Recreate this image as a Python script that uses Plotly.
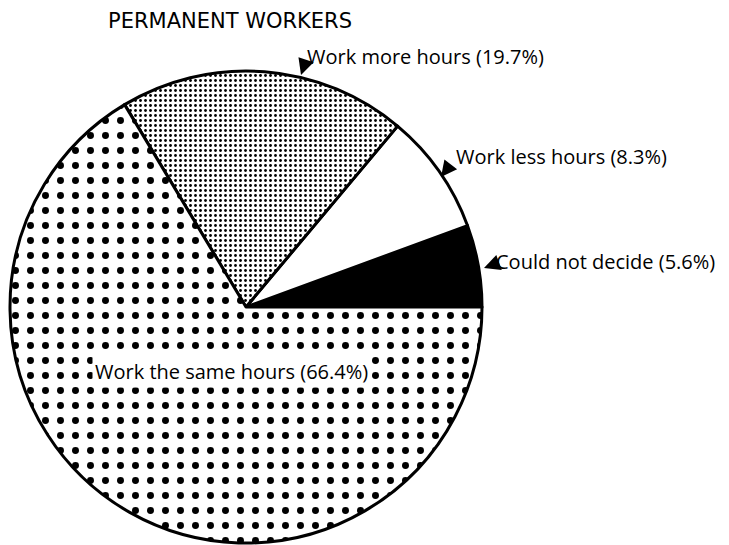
import plotly.graph_objects as go

labels = ["Could not decide", "Work less hours", "Work more hours", "Work the same hours"]
values = [5.6, 8.3, 19.7, 66.4]
title_text = "PERMANENT WORKERS"

# page is 729x545; the HTML body has an 8px margin
OFF = 8
FW, FH = 729 - OFF, 545 - OFF
ML, MR, MT, MB = 0, 0, 40, 0
PW, PH = FW - ML - MR, FH - MT - MB
FONT = "Open Sans"

def px(x, y):
    """page pixel -> paper fraction (plot area)"""
    return (x - OFF - ML) / PW, 1 - (y - OFF - MT) / PH

# first slice (ccw direction) must start at 3 o'clock
first_share = values[0] / sum(values) * 360
rotation = 90 - first_share

x0, y_top = px(10, 71)
x1, y_bot = px(482, 543)

fig = go.Figure()
fig.add_trace(go.Pie(
    labels=labels,
    values=values,
    sort=False,
    direction="counterclockwise",
    rotation=rotation,
    textinfo="none",
    hoverinfo="label+percent",
    showlegend=False,
    domain=dict(x=[x0, x1], y=[max(y_bot, 0), min(y_top, 1)]),
    marker=dict(
        colors=["black", "white", "white", "white"],
        line=dict(color="black", width=3),
        pattern=dict(
            shape=["", "", ".", "."],
            fgcolor=["black", "black", "black", "black"],
            bgcolor=["black", "white", "white", "white"],
            size=[8, 8, 5, 15],
            solidity=[0.2, 0.2, 0.25, 0.17],
            fillmode="replace",
        ),
    ),
))

annotations = []
# label texts: (text, left x, center y, white box) in page pixels
label_pos = [
    (f"{labels[2]} ({values[2]}%)", 304, 56, False),
    (f"{labels[1]} ({values[1]}%)", 453, 156, False),
    (f"{labels[0]} ({values[0]}%)", 493, 262, False),
    (f"{labels[3]} ({values[3]}%)", 92, 371, True),
]
for text, x, y, box in label_pos:
    xx, yy = px(x, y)
    annotations.append(dict(
        x=xx, y=yy, xref="paper", yref="paper", text=text, showarrow=False,
        xanchor="left", yanchor="middle",
        font=dict(family=FONT, size=20, color="black"),
        bgcolor="white" if box else None, borderpad=2,
    ))

# short arrows: (tip x, tip y, tail x, tail y) in page pixels
arrows = [
    (301, 75, 305, 63),
    (441, 177, 451, 164),
    (484, 268, 495, 264),
]
for tx, ty, sx, sy in arrows:
    xx, yy = px(tx, ty)
    annotations.append(dict(
        x=xx, y=yy, xref="paper", yref="paper", text="", showarrow=True,
        ax=sx - tx, ay=sy - ty, axref="pixel", ayref="pixel",
        arrowhead=2, arrowsize=1.6, arrowwidth=2, arrowcolor="black",
        standoff=0,
    ))

fig.update_layout(
    width=FW, height=FH,
    margin=dict(l=ML, r=MR, t=MT, b=MB),
    paper_bgcolor="white",
    plot_bgcolor="white",
    title=dict(
        text=title_text, x=(108 - OFF) / FW, xanchor="left", xref="container",
        y=1 - (21 - OFF) / FH, yanchor="middle", yref="container",
        font=dict(family="DejaVu Sans", size=21, color="black"),
    ),
    annotations=annotations,
)

fig.write_html("out.html")
